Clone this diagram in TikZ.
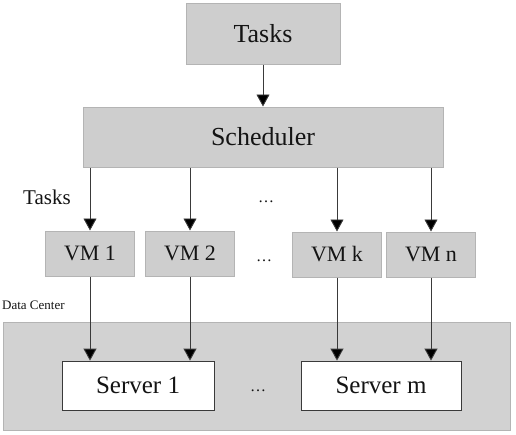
\documentclass[tikz,border=0pt]{standalone}
\usepackage{fontspec}
\setmainfont{Liberation Serif}
\usetikzlibrary{arrows.meta}
\definecolor{boxfill}{HTML}{CECECE}
\definecolor{boxline}{HTML}{B4B4B4}
\definecolor{dcfill}{HTML}{D2D2D2}
\definecolor{lineclr}{HTML}{3A3A3A}
\definecolor{txt}{HTML}{141414}
\tikzset{
  graybox/.style={draw=boxline, line width=1pt, fill=boxfill, inner sep=0pt, text=txt},
  serverbox/.style={draw=lineclr, line width=0.8pt, fill=white, inner sep=0pt, text=txt},
  arr/.style={draw=lineclr, line width=0.9pt, -{Triangle[length=12pt,width=13pt,fill=black]}},
  lbl/.style={text=txt, inner sep=0pt}
}
\begin{document}
\begin{tikzpicture}[x=1pt,y=-1pt]
\useasboundingbox (0,0) rectangle (516,434);
% data center
\node[draw=boxline, line width=0.8pt, fill=dcfill, minimum width=507pt, minimum height=108pt, inner sep=0pt] (dc) at (256.5,376) {};
\node[lbl, anchor=west, font=\fontsize{13}{13}\selectfont] (dclbl) at (2,305) {Data Center};
% top
\node[graybox, minimum width=154pt, minimum height=61pt, font=\fontsize{26}{26}\selectfont] (tasks) at (263,33.5) {Tasks};
\node[graybox, minimum width=360pt, minimum height=60pt, font=\fontsize{26}{26}\selectfont] (sched) at (263,137) {Scheduler};
% VMs
\node[graybox, minimum width=89pt, minimum height=45pt, font=\fontsize{22}{22}\selectfont] (vm1) at (90,253.5) {VM 1};
\node[graybox, minimum width=89pt, minimum height=45pt, font=\fontsize{22}{22}\selectfont] (vm2) at (190,253.5) {VM 2};
\node[graybox, minimum width=89pt, minimum height=45pt, font=\fontsize{22}{22}\selectfont] (vmk) at (337,254.5) {VM k};
\node[graybox, minimum width=89pt, minimum height=45pt, font=\fontsize{22}{22}\selectfont] (vmn) at (431,254.5) {VM n};
% labels
\node[lbl, font=\fontsize{21}{21}\selectfont] (tlbl) at (47,197) {Tasks};
\node[lbl, font=\fontsize{16}{16}\selectfont] (dots1) at (266,202) {\dots};
\node[lbl, font=\fontsize{16}{16}\selectfont] (dots2) at (264,261) {\dots};
% servers
\node[serverbox, minimum width=152pt, minimum height=49pt, font=\fontsize{25}{25}\selectfont] (s1) at (138,385.5) {Server 1};
\node[serverbox, minimum width=160pt, minimum height=49pt, font=\fontsize{25}{25}\selectfont] (sm) at (381,385.5) {Server m};
\node[lbl, font=\fontsize{16}{16}\selectfont] (dots3) at (258,391) {\dots};
% arrows
\draw[arr] (tasks.south) -- (sched.north);
\foreach \v in {vm1,vm2,vmk,vmn}{
  \draw[arr] (sched.south -| \v.north) -- (\v.north);
}
\draw[arr] (vm1.south) -- (vm1.south |- s1.north);
\draw[arr] (vm2.south) -- (vm2.south |- s1.north);
\draw[arr] (vmk.south) -- (vmk.south |- sm.north);
\draw[arr] (vmn.south) -- (vmn.south |- sm.north);
\end{tikzpicture}
\end{document}
